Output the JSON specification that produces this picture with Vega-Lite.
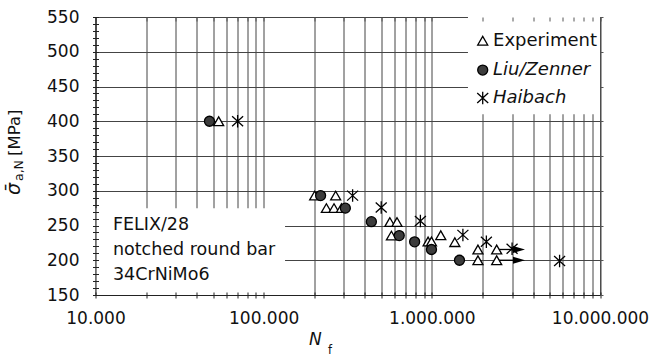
{
  "$schema": "https://vega.github.io/schema/vega-lite/v6.json",
  "width": 504.5,
  "height": 278,
  "autosize": {"type": "none"},
  "padding": {"left": 95.5, "top": 17, "right": 60, "bottom": 61},
  "background": "white",
  "config": {
    "font": "DejaVu Sans",
    "view": {"stroke": "#555555", "strokeWidth": 1},
    "axis": {"labelFont": "DejaVu Sans", "labelFontSize": 17, "labelColor": "#111111", "tickColor": "#222222", "domainColor": "#222222", "gridColor": "#444444", "gridWidth": 1}
  },
  "datasets": {
    "points": [
      {"series": "Experiment", "N": 54000, "sigma": 400},
      {"series": "Experiment", "N": 201000, "sigma": 293},
      {"series": "Experiment", "N": 268000, "sigma": 293},
      {"series": "Experiment", "N": 236000, "sigma": 275},
      {"series": "Experiment", "N": 262000, "sigma": 275},
      {"series": "Experiment", "N": 290000, "sigma": 275},
      {"series": "Experiment", "N": 563000, "sigma": 255},
      {"series": "Experiment", "N": 621000, "sigma": 255},
      {"series": "Experiment", "N": 575000, "sigma": 235.5},
      {"series": "Experiment", "N": 950000, "sigma": 227},
      {"series": "Experiment", "N": 995000, "sigma": 227},
      {"series": "Experiment", "N": 1130000, "sigma": 236},
      {"series": "Experiment", "N": 1370000, "sigma": 226},
      {"series": "Experiment", "N": 1880000, "sigma": 215.5},
      {"series": "Experiment", "N": 1880000, "sigma": 200},
      {"series": "Experiment", "N": 2430000, "sigma": 215.5},
      {"series": "Experiment", "N": 2430000, "sigma": 200},
      {"series": "Liu/Zenner", "N": 47600, "sigma": 400},
      {"series": "Liu/Zenner", "N": 218000, "sigma": 293},
      {"series": "Liu/Zenner", "N": 306000, "sigma": 275},
      {"series": "Liu/Zenner", "N": 437000, "sigma": 255.5},
      {"series": "Liu/Zenner", "N": 640000, "sigma": 235.5},
      {"series": "Liu/Zenner", "N": 790000, "sigma": 226.5},
      {"series": "Liu/Zenner", "N": 995000, "sigma": 215.5},
      {"series": "Liu/Zenner", "N": 1460000, "sigma": 200},
      {"series": "Haibach", "N": 70000, "sigma": 400},
      {"series": "Haibach", "N": 338000, "sigma": 293},
      {"series": "Haibach", "N": 500000, "sigma": 276},
      {"series": "Haibach", "N": 855000, "sigma": 256.5},
      {"series": "Haibach", "N": 1530000, "sigma": 236.5},
      {"series": "Haibach", "N": 2110000, "sigma": 226.5},
      {"series": "Haibach", "N": 3000000, "sigma": 216.5},
      {"series": "Haibach", "N": 5750000, "sigma": 199}
    ],
    "runouts": [
      {"N": 2430000, "N_end": 3300000, "sigma": 215.5},
      {"N": 2430000, "N_end": 3300000, "sigma": 200}
    ]
  },
  "resolve": {"axis": {"x": "independent", "y": "independent"}},
  "layer": [
    {
      "data": {"values": [{}]},
      "mark": {"type": "rect", "fill": "white"},
      "encoding": {
        "x": {"datum": 10000, "type": "quantitative", "scale": {"type": "log", "domain": [10000, 10000000], "nice": false}, "axis": null},
        "x2": {"datum": 134000},
        "y": {"datum": 150, "type": "quantitative", "scale": {"domain": [150, 550], "nice": false, "zero": false}, "axis": null},
        "y2": {"datum": 275}
      }
    },
    {
      "data": {"values": [{}]},
      "mark": {"type": "rect", "fill": "white"},
      "encoding": {
        "x": {"datum": 1640000, "type": "quantitative", "scale": {"type": "log", "domain": [10000, 10000000], "nice": false},
              "axis": {"orient": "top", "values": [10000,20000,30000,40000,50000,60000,70000,80000,90000,100000,200000,300000,400000,500000,600000,700000,800000,900000,1000000,2000000,3000000,4000000,5000000,6000000,7000000,8000000,9000000,10000000], "labels": false, "domain": false, "grid": false, "ticks": true, "tickSize": -4, "tickColor": "#555555", "title": null, "zindex": 1}},
        "x2": {"datum": 10000000},
        "y": {"datum": 410, "type": "quantitative", "scale": {"domain": [150, 550], "nice": false, "zero": false},
              "axis": {"orient": "right", "values": [150,200,250,300,350,400,450,500,550], "labels": false, "domain": false, "grid": false, "tickSize": 3, "tickColor": "#555555", "title": null, "zindex": 1}},
        "y2": {"datum": 550}
      }
    },
    {
      "data": {"name": "runouts"},
      "mark": {"type": "rule", "color": "black", "strokeWidth": 1.3},
      "encoding": {
        "x": {"field": "N", "type": "quantitative", "scale": {"type": "log", "domain": [10000, 10000000], "nice": false},
              "axis": {"orient": "bottom", "values": [10000,20000,30000,40000,50000,60000,70000,80000,90000,100000,200000,300000,400000,500000,600000,700000,800000,900000,1000000,2000000,3000000,4000000,5000000,6000000,7000000,8000000,9000000,10000000], "grid": true, "labels": false, "ticks": false, "domain": false, "title": null, "zindex": 0}},
        "x2": {"field": "N_end"},
        "y": {"field": "sigma", "type": "quantitative", "scale": {"domain": [150, 550], "nice": false, "zero": false},
              "axis": {"orient": "left", "values": [150,200,250,300,350,400,450,500,550], "grid": true, "labels": false, "ticks": false, "domain": false, "title": null, "zindex": 0}}
      }
    },
    {
      "data": {"name": "points"},
      "mark": {"type": "point", "opacity": 1, "size": 100, "strokeWidth": 1.3, "stroke": "black"},
      "encoding": {
        "x": {"field": "N", "type": "quantitative", "scale": {"type": "log", "domain": [10000, 10000000], "nice": false},
              "axis": {"orient": "bottom", "values": [10000,20000,30000,40000,50000,60000,70000,80000,90000,100000,200000,300000,400000,500000,600000,700000,800000,900000,1000000,2000000,3000000,4000000,5000000,6000000,7000000,8000000,9000000,10000000],
                       "labelExpr": "datum.value == 10000 ? '10.000' : datum.value == 100000 ? '100.000' : datum.value == 1000000 ? '1.000.000' : datum.value == 10000000 ? '10.000.000' : ''",
                       "labelOverlap": false, "labelFlush": false, "labelBound": false, "tickSize": 3, "labelPadding": 12.5, "domain": true, "grid": false, "title": null, "zindex": 1}},
        "y": {"field": "sigma", "type": "quantitative", "scale": {"domain": [150, 550], "nice": false, "zero": false},
              "axis": {"orient": "left", "values": [150,160,170,180,190,200,210,220,230,240,250,260,270,280,290,300,310,320,330,340,350,360,370,380,390,400,410,420,430,440,450,460,470,480,490,500,510,520,530,540,550],
                       "labelExpr": "datum.value % 50 === 0 ? datum.label : ''", "labelOverlap": false, "labelFlush": false, "tickSize": 3, "labelPadding": 13.5, "domain": true, "grid": false, "title": null, "zindex": 1}},
        "shape": {"field": "series", "type": "nominal",
                  "scale": {"domain": ["Experiment", "Liu/Zenner", "Haibach"], "range": ["triangle-up", "circle", "M-1.1,-1L1.1,1M-1.1,1L1.1,-1M0,-1.25L0,1.25"]},
                  "legend": null},
        "fill": {"field": "series", "type": "nominal",
                 "scale": {"domain": ["Experiment", "Liu/Zenner", "Haibach"], "range": ["white", "#3c3c3c", "transparent"]},
                 "legend": null}
      }
    },
    {
      "data": {"name": "runouts"},
      "mark": {"type": "point", "shape": "M-1,-0.6L1,0L-1,0.6Z", "size": 144, "filled": true, "color": "black", "opacity": 1},
      "encoding": {
        "x": {"field": "N_end", "type": "quantitative", "scale": {"type": "log", "domain": [10000, 10000000], "nice": false},
              "axis": {"orient": "bottom", "values": [10000,20000,30000,40000,50000,60000,70000,80000,90000,100000,200000,300000,400000,500000,600000,700000,800000,900000,1000000,2000000,3000000,4000000,5000000,6000000,7000000,8000000,9000000,10000000], "labels": false, "domain": false, "grid": false, "tickSize": -3, "title": null, "zindex": 1}},
        "y": {"field": "sigma", "type": "quantitative", "scale": {"domain": [150, 550], "nice": false, "zero": false},
              "axis": {"orient": "left", "values": [150,160,170,180,190,200,210,220,230,240,250,260,270,280,290,300,310,320,330,340,350,360,370,380,390,400,410,420,430,440,450,460,470,480,490,500,510,520,530,540,550], "labels": false, "domain": false, "grid": false, "tickSize": -3, "title": null, "zindex": 1}}
      }
    },
    {
      "data": {"values": [{}]},
      "mark": {"type": "point", "shape": "triangle-up", "size": 100, "fill": "white", "stroke": "black", "strokeWidth": 1.3, "opacity": 1},
      "encoding": {
        "x": {"datum": 2007000, "type": "quantitative", "axis": null},
        "y": {"datum": 515.9, "type": "quantitative", "axis": null}
      }
    },
    {
      "data": {"values": [{}]},
      "mark": {"type": "point", "shape": "circle", "size": 100, "fill": "#3c3c3c", "stroke": "black", "strokeWidth": 1.3, "opacity": 1},
      "encoding": {
        "x": {"datum": 2007000, "type": "quantitative", "axis": null},
        "y": {"datum": 473.7, "type": "quantitative", "axis": null}
      }
    },
    {
      "data": {"values": [{}]},
      "mark": {"type": "point", "shape": "M-1.1,-1L1.1,1M-1.1,1L1.1,-1M0,-1.25L0,1.25", "size": 100, "fill": "transparent", "stroke": "black", "strokeWidth": 1.3, "opacity": 1},
      "encoding": {
        "x": {"datum": 2007000, "type": "quantitative", "axis": null},
        "y": {"datum": 433.5, "type": "quantitative", "axis": null}
      }
    },
    {
      "data": {"values": [{}]},
      "mark": {"type": "text", "text": "Experiment", "align": "left", "baseline": "middle", "font": "DejaVu Sans", "fontSize": 18, "color": "#111111"},
      "encoding": {
        "x": {"datum": 2311000, "type": "quantitative", "axis": null},
        "y": {"datum": 515.9, "type": "quantitative", "axis": null}
      }
    },
    {
      "data": {"values": [{}]},
      "mark": {"type": "text", "text": "Liu/Zenner", "align": "left", "baseline": "middle", "font": "DejaVu Sans", "fontSize": 18, "fontStyle": "italic", "color": "#111111"},
      "encoding": {
        "x": {"datum": 2311000, "type": "quantitative", "axis": null},
        "y": {"datum": 473.7, "type": "quantitative", "axis": null}
      }
    },
    {
      "data": {"values": [{}]},
      "mark": {"type": "text", "text": "Haibach", "align": "left", "baseline": "middle", "font": "DejaVu Sans", "fontSize": 18, "fontStyle": "italic", "color": "#111111"},
      "encoding": {
        "x": {"datum": 2311000, "type": "quantitative", "axis": null},
        "y": {"datum": 433.5, "type": "quantitative", "axis": null}
      }
    },
    {
      "data": {"values": [{}]},
      "mark": {"type": "text", "text": "FELIX/28\nnotched round bar\n34CrNiMo6", "lineBreak": "\n", "lineHeight": 25, "align": "left", "baseline": "alphabetic", "font": "DejaVu Sans", "fontSize": 17.5, "color": "#111111"},
      "encoding": {
        "x": {"datum": 12700, "type": "quantitative", "axis": null},
        "y": {"datum": 243.5, "type": "quantitative", "axis": null}
      }
    },
    {
      "data": {"values": [{}]},
      "mark": {"type": "text", "text": "σ̄", "angle": 270, "align": "left", "baseline": "alphabetic", "dy": -76, "font": "DejaVu Sans", "fontSize": 19, "fontStyle": "italic", "color": "#111111"},
      "encoding": {
        "x": {"datum": 10000, "type": "quantitative", "axis": null},
        "y": {"datum": 293.9, "type": "quantitative", "axis": null}
      }
    },
    {
      "data": {"values": [{}]},
      "mark": {"type": "text", "text": "a,N", "angle": 270, "align": "left", "baseline": "alphabetic", "dy": -73, "font": "DejaVu Sans", "fontSize": 12.5, "color": "#111111"},
      "encoding": {
        "x": {"datum": 10000, "type": "quantitative", "axis": null},
        "y": {"datum": 314, "type": "quantitative", "axis": null}
      }
    },
    {
      "data": {"values": [{}]},
      "mark": {"type": "text", "text": "[MPa]", "angle": 270, "align": "left", "baseline": "alphabetic", "dy": -76, "font": "DejaVu Sans", "fontSize": 16.5, "color": "#111111"},
      "encoding": {
        "x": {"datum": 10000, "type": "quantitative", "axis": null},
        "y": {"datum": 350, "type": "quantitative", "axis": null}
      }
    },
    {
      "data": {"values": [{}]},
      "mark": {"type": "text", "text": "N", "align": "left", "baseline": "alphabetic", "dy": 50, "font": "DejaVu Sans", "fontSize": 17, "fontStyle": "italic", "color": "#111111"},
      "encoding": {
        "x": {"datum": 185900, "type": "quantitative", "axis": null},
        "y": {"datum": 150, "type": "quantitative", "axis": null}
      }
    },
    {
      "data": {"values": [{}]},
      "mark": {"type": "text", "text": "f", "align": "left", "baseline": "alphabetic", "dy": 59, "font": "DejaVu Sans", "fontSize": 11.5, "color": "#111111"},
      "encoding": {
        "x": {"datum": 241200, "type": "quantitative", "axis": null},
        "y": {"datum": 150, "type": "quantitative", "axis": null}
      }
    }
  ]
}
